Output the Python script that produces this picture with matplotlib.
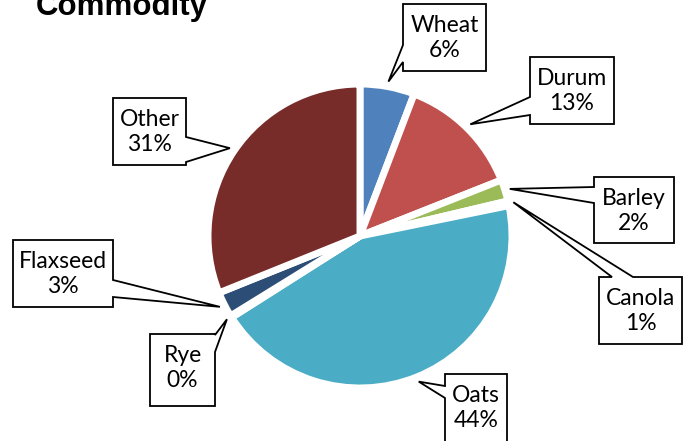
import numpy as np
import matplotlib.pyplot as plt
from matplotlib.patches import Polygon

W, H = 689, 441

commodities = ['Wheat', 'Durum', 'Barley', 'Canola', 'Oats', 'Rye', 'Flaxseed', 'Other']
shares = [5.8, 13.2, 2.3, 0.5, 44.2, 0.2, 2.7, 31.1]
pct_labels = ['6%', '13%', '2%', '1%', '44%', '0%', '3%', '31%']
colors = ['#4F81BD', '#C0504D', '#9BBB59', '#8064A2',
          '#4BACC6', '#F79646', '#2C4D75', '#772C2A']

# callout boxes in pixels from top-left: left, top, right, bottom,
# side where the pointer joins, pointer base start/end along that side
boxes = [
    (403, 4, 486, 71, 'left', 45, 62),
    (530, 57, 614, 124, 'left', 97, 115),
    (594, 177, 674, 243, 'left', 187, 203),
    (599, 277, 682, 344, 'top', 612, 633),
    (445, 374, 507, 445, 'left', 386, 398),
    (150, 334, 215, 406, 'right', 335, 352),
    (13, 240, 113, 307, 'right', 280, 297),
    (113, 98, 186, 165, 'right', 137, 162),
]

cx, cy, R = 360, 236, 152

fig = plt.figure(figsize=(W / 100, H / 100), dpi=100)
ax = fig.add_axes([0, 0, 1, 1])

wedges, _ = ax.pie(shares, colors=colors, startangle=90, counterclock=False,
                   radius=R, center=(cx, H - cy),
                   wedgeprops=dict(edgecolor='white', linewidth=5))


def callout(box, tip):
    x0, y0, x1, y1, side, b0, b1 = box
    tx, ty = tip
    if side == 'top':
        pts = [(x0, y0), (b0, y0), (tx, ty), (b1, y0), (x1, y0), (x1, y1), (x0, y1)]
    elif side == 'right':
        pts = [(x0, y0), (x1, y0), (x1, b0), (tx, ty), (x1, b1), (x1, y1), (x0, y1)]
    else:
        pts = [(x0, y0), (x1, y0), (x1, y1), (x0, y1), (x0, b1), (tx, ty), (x0, b0)]
    pts = [(px, H - py) for px, py in pts]
    ax.add_patch(Polygon(pts, closed=True, facecolor='white', edgecolor='black',
                         linewidth=1.3, joinstyle='miter', zorder=5))


for w, box, name, pct in zip(wedges, boxes, commodities, pct_labels):
    mid = np.deg2rad((w.theta1 + w.theta2) / 2)
    rho = R + 5
    tip = (cx + rho * np.cos(mid), cy - rho * np.sin(mid))
    callout(box, tip)
    x0, y0, x1, y1 = box[:4]
    ax.text((x0 + x1) / 2, H - (y0 + 34), f'{name}\n{pct}', ha='center', va='center',
            fontfamily='Lato', fontsize=16.5, linespacing=1.2, zorder=6)

ax.text(36, H - 15, 'Commodity', fontfamily='Liberation Sans', fontweight='bold',
        fontsize=22.5, va='baseline')

ax.set_xlim(0, W)
ax.set_ylim(0, H)
ax.set_aspect('auto')
ax.axis('off')

fig.savefig('out.png', dpi=100)
